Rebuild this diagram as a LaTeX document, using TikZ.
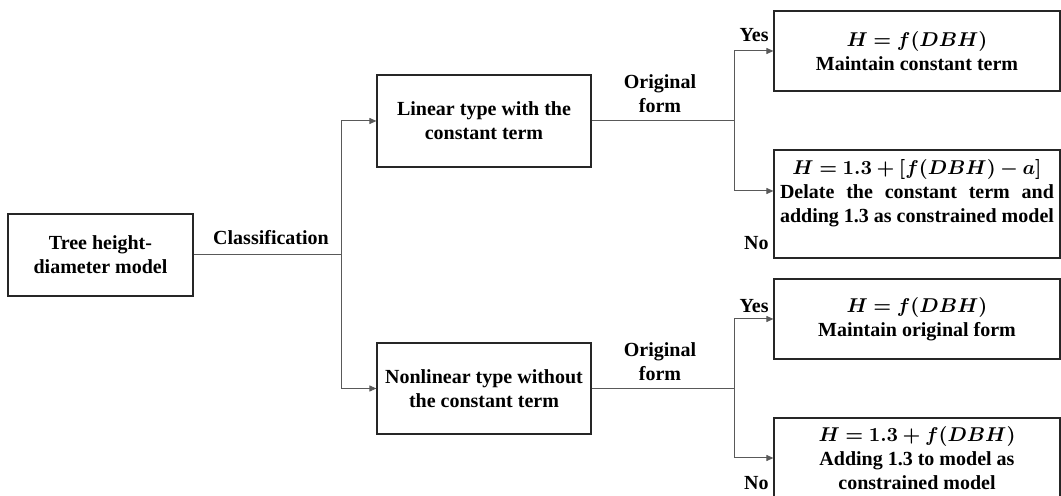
\documentclass[tikz,border=0pt]{standalone}
\usepackage{fontspec}
\setmainfont{Liberation Serif}
\usepackage{calc}
\usepackage{bm}
\usepackage{tikz}
\usetikzlibrary{arrows.meta}
\tikzset{>={Triangle[length=3.5pt,width=3pt]}}
\tikzset{
  box/.style={draw=black!85,line width=0.6pt,align=center,inner sep=0pt,font=\bfseries},
  lbl/.style={align=center,inner sep=0pt,font=\bfseries},
  link/.style={draw=black!65,line width=0.5pt}
}

\begin{document}
\begin{tikzpicture}[x=0.5pt,y=-0.5pt]
      \useasboundingbox (0,0) rectangle (1061,496);

      \node[box,minimum width=92.5pt,minimum height=41pt](tree) at (100.5, 255) {Tree height-\\diameter model};
      \node[box,minimum width=107pt,minimum height=46pt](lin) at (484, 121) {Linear type with the\\constant term};
      \node[box,minimum width=107pt,minimum height=45.5pt](non) at (484, 388.5) {Nonlinear type without\\the constant term};

      \node[box,minimum width=143pt,minimum height=40pt](res1) at (917, 51) {$\bm{H=f(DBH)}$\\Maintain constant term};
      \node[box,minimum width=143pt,minimum height=54pt,text depth=13pt](res2) at (917, 204)
        {$\bm{H=1.3+[f(DBH)-a]}$\\\makebox[\widthof{adding 1.3 as constrained model}][s]{Delate the constant term and}\\adding 1.3 as constrained model};
      \node[box,minimum width=143pt,minimum height=40pt](res3) at (917, 319) {$\bm{H=f(DBH)}$\\Maintain original form};
      \node[box,minimum width=143pt,minimum height=40pt](res4) at (917, 458) {$\bm{H=1.3+f(DBH)}$\\Adding 1.3 to model as\\constrained model};

      \node[lbl](cls) at (271, 238) {Classification};
      \node[lbl](orig1) at (660, 94) {Original\\form};
      \node[lbl](orig2) at (660, 362) {Original\\form};
      \node[lbl,anchor=east](yes1) at (769, 35) {Yes};
      \node[lbl,anchor=east](no1) at (769, 243) {No};
      \node[lbl,anchor=east](yes2) at (769, 306) {Yes};
      \node[lbl,anchor=east](no2) at (769, 483) {No};

      \coordinate (c0) at (341, 255);
      \coordinate (c1) at (734, 121);
      \coordinate (c2) at (734, 388.5);

      \draw[link] (tree) -- (c0);
      \draw[link,->] (c0) |- (lin);
      \draw[link,->] (c0) |- (non);

      \draw[link] (lin) -- (c1);
      \draw[link,->] (c1) |- (res1);
      \draw[link,->] (c1) |- ([yshift=6.5pt]res2.west);

      \draw[link] (non) -- (c2);
      \draw[link,->] (c2) |- (res3);
      \draw[link,->] (c2) |- (res4);
    \end{tikzpicture}
\end{document}
